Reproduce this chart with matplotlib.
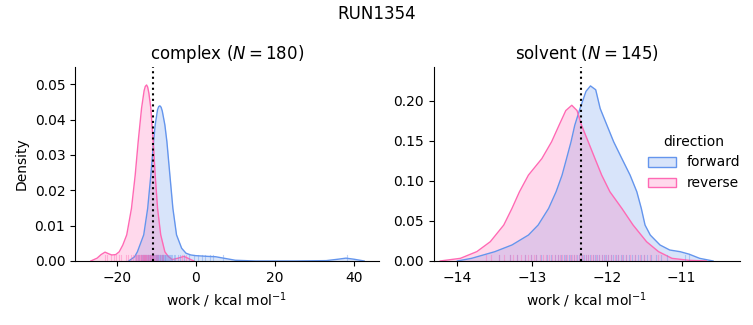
import matplotlib
matplotlib.use("Agg")
import matplotlib.pyplot as plt
from matplotlib.patches import Patch
from matplotlib.ticker import FormatStrFormatter

# density curves (work in kcal/mol, density)
cx_fwd_x = [-17.0, -15.5, -14.8, -13.2, -12.2, -11.4, -10.7, -10.3, -9.7, -9.4, -9.11, -8.8,
            -8.5, -7.85, -7.34, -6.58, -5.82, -4.9, -3.6, -2.5, -1.3, 0.0, 3.0, 5.0, 7.0,
            10.0, 15.0, 25.0, 33.0, 36.0, 38.0, 40.0, 42.6]
cx_fwd_y = [0.0, 0.0012, 0.0026, 0.0074, 0.0149, 0.0243, 0.0338, 0.0385, 0.0428, 0.0437,
            0.0439, 0.0435, 0.0424, 0.0385, 0.0338, 0.0243, 0.0149, 0.0074, 0.0036, 0.0022,
            0.0017, 0.0015, 0.0013, 0.0012, 0.0008, 0.0002, 0.0, 0.0, 0.0001, 0.0005,
            0.0008, 0.0005, 0.0]
cx_rev_x = [-26.6, -25.0, -24.0, -23.0, -22.0, -21.3, -20.3, -19.4, -18.5, -17.5, -16.3,
            -15.36, -14.6, -13.75, -13.1, -12.8, -12.48, -12.2, -11.9, -11.4, -10.8, -10.3,
            -9.7, -8.9, -7.85, -7.0, -6.0, -4.5, -3.0, -1.5, -0.5]
cx_rev_y = [0.0, 0.0008, 0.0018, 0.0025, 0.0020, 0.0017, 0.0018, 0.0026, 0.0045, 0.0074,
            0.0149, 0.0243, 0.0338, 0.0432, 0.0482, 0.0494, 0.0498, 0.0492, 0.0475, 0.0432,
            0.0338, 0.0243, 0.0149, 0.0074, 0.0026, 0.0013, 0.0004, 0.0008, 0.0013, 0.0005,
            0.0]

sv_fwd_x = [-14.0, -13.81, -13.5, -13.27, -13.05, -12.92, -12.78, -12.68, -12.60, -12.54,
            -12.48, -12.43, -12.36, -12.28, -12.22, -12.15, -12.09, -12.0, -11.91, -11.80,
            -11.69, -11.60, -11.54, -11.49, -11.42, -11.29, -11.16, -11.02, -10.90, -10.76,
            -10.58]
sv_fwd_y = [0.0, 0.0033, 0.0116, 0.020, 0.0324, 0.0449, 0.0657, 0.0865, 0.1073, 0.128,
            0.149, 0.1697, 0.1905, 0.212, 0.2188, 0.214, 0.1905, 0.1697, 0.149, 0.128,
            0.1073, 0.0865, 0.0657, 0.0449, 0.0324, 0.020, 0.0137, 0.0116, 0.0085, 0.0033,
            0.0]
sv_rev_x = [-14.23, -13.96, -13.74, -13.56, -13.38, -13.27, -13.17, -13.05, -12.87, -12.74,
            -12.64, -12.55, -12.47, -12.40, -12.34, -12.25, -12.16, -12.07, -11.96, -11.80,
            -11.65, -11.47, -11.31, -11.13, -10.9, -10.67]
sv_rev_y = [0.0, 0.0033, 0.0117, 0.0241, 0.0449, 0.0657, 0.0865, 0.1073, 0.128, 0.149,
            0.1697, 0.188, 0.1946, 0.188, 0.1697, 0.149, 0.128, 0.1073, 0.0865, 0.0657,
            0.0449, 0.0241, 0.0117, 0.0033, 0.0008, 0.0]

# rug samples (approximate)
cx_fwd_rug = [-15.2, -14.7, -14.3, -13.9, -13.6, -13.3, -13.1, -12.9, -12.7, -12.4, -12.2,
              -12.0, -11.9, -11.7, -11.5, -11.3, -11.1, -10.9, -10.8, -10.6, -10.4, -10.2,
              -10.1, -9.9, -9.8, -9.6, -9.5, -9.3, -9.2, -9.0, -8.9, -8.7, -8.6, -8.4, -8.2,
              -8.0, -7.9, -7.7, -7.5, -7.3, -7.1, -6.8, -6.6, -6.3, -6.0, -5.6, -5.2, -4.6,
              -4.1, -3.0, -1.8, -0.6, 0.5, 1.6, 2.4, 3.5, 4.3, 6.9, 38.2]
cx_rev_rug = [-23.1, -22.4, -21.6, -20.8, -20.2, -19.5, -18.9, -17.8, -17.1, -16.4, -15.9,
              -15.5, -15.1, -14.8, -14.6, -14.4, -14.2, -14.0, -13.9, -13.7, -13.5, -13.4,
              -13.2, -13.1, -12.9, -12.8, -12.6, -12.5, -12.3, -12.2, -12.0, -11.9, -11.7,
              -11.6, -11.4, -11.2, -11.0, -10.8, -10.6, -10.4, -10.1, -9.8, -9.5, -9.1, -8.7,
              -8.2, -3.4, -2.6]
sv_fwd_rug = [-13.45, -13.3, -13.2, -13.1, -13.02, -12.95, -12.88, -12.8, -12.75, -12.7,
              -12.66, -12.62, -12.58, -12.55, -12.51, -12.48, -12.44, -12.4, -12.37, -12.34,
              -12.31, -12.28, -12.25, -12.22, -12.19, -12.16, -12.13, -12.1, -12.07, -12.04,
              -12.01, -11.98, -11.95, -11.92, -11.88, -11.85, -11.81, -11.78, -11.74, -11.7,
              -11.66, -11.62, -11.58, -11.55, -11.51, -11.47, -11.41, -11.35, -11.28, -11.2,
              -10.95, -10.9]
sv_rev_rug = [-13.62, -13.55, -13.45, -13.38, -13.3, -13.25, -13.2, -13.15, -13.1, -13.06,
              -13.02, -12.98, -12.95, -12.9, -12.86, -12.82, -12.78, -12.74, -12.7, -12.66,
              -12.63, -12.6, -12.56, -12.53, -12.5, -12.47, -12.44, -12.41, -12.38, -12.35,
              -12.32, -12.28, -12.25, -12.21, -12.18, -12.14, -12.1, -12.06, -12.02, -11.98,
              -11.94, -11.89, -11.85, -11.8, -11.75, -11.69, -11.62, -11.56, -11.5, -11.42,
              -11.32]

cx_mean = -10.9
sv_mean = -12.35
directions = ["forward", "reverse"]
colors = {"forward": "#6495ED", "reverse": "#FF69B4"}

fig = plt.figure(figsize=(7.53, 3.25), dpi=100)
ax1 = fig.add_axes([0.0996, 0.197, 0.4034, 0.597])
ax2 = fig.add_axes([0.5757, 0.197, 0.4070, 0.597])

panels = [
    (ax1, "complex ($N = 180$)", cx_fwd_x, cx_fwd_y, cx_rev_x, cx_rev_y, cx_fwd_rug, cx_rev_rug,
     cx_mean, (-30.6, 46.3), (0, 0.0549)),
    (ax2, "solvent ($N = 145$)", sv_fwd_x, sv_fwd_y, sv_rev_x, sv_rev_y, sv_fwd_rug, sv_rev_rug,
     sv_mean, (-14.32, -10.22), (0, 0.2425)),
]

for ax, title, fx, fy, rx, ry, frug, rrug, mean, xlim, ylim in panels:
    for x, y, d in [(fx, fy, "forward"), (rx, ry, "reverse")]:
        ax.fill_between(x, y, color=colors[d], alpha=0.25, lw=0)
        ax.plot(x, y, color=colors[d], lw=1)
    for rug, d in [(frug, "forward"), (rrug, "reverse")]:
        for v in rug:
            ax.axvline(v, ymin=0, ymax=0.03, color=colors[d], alpha=0.4, lw=0.8)
    ax.axvline(mean, color="black", ls=":", lw=1.5)
    ax.set_xlim(*xlim)
    ax.set_ylim(*ylim)
    ax.set_title(title, fontsize=12)
    ax.set_xlabel("work / kcal mol$^{-1}$")
    ax.spines["top"].set_visible(False)
    ax.spines["right"].set_visible(False)
    ax.yaxis.set_major_formatter(FormatStrFormatter("%.2f"))

ax1.set_ylabel("Density")
ax1.set_xticks([-20, 0, 20, 40])
ax1.set_yticks([0, 0.01, 0.02, 0.03, 0.04, 0.05])
ax2.set_xticks([-14, -13, -12, -11])
ax2.set_yticks([0, 0.05, 0.10, 0.15, 0.20])

handles = [Patch(facecolor=matplotlib.colors.to_rgba(colors[d], 0.25), edgecolor=colors[d])
           for d in directions]
fig.legend(handles, directions, title="direction", loc="center right",
           bbox_to_anchor=(1.0, 0.5), frameon=False)

fig.suptitle("RUN1354", fontsize=12, y=0.985)
fig.savefig("out.png", dpi=100)
